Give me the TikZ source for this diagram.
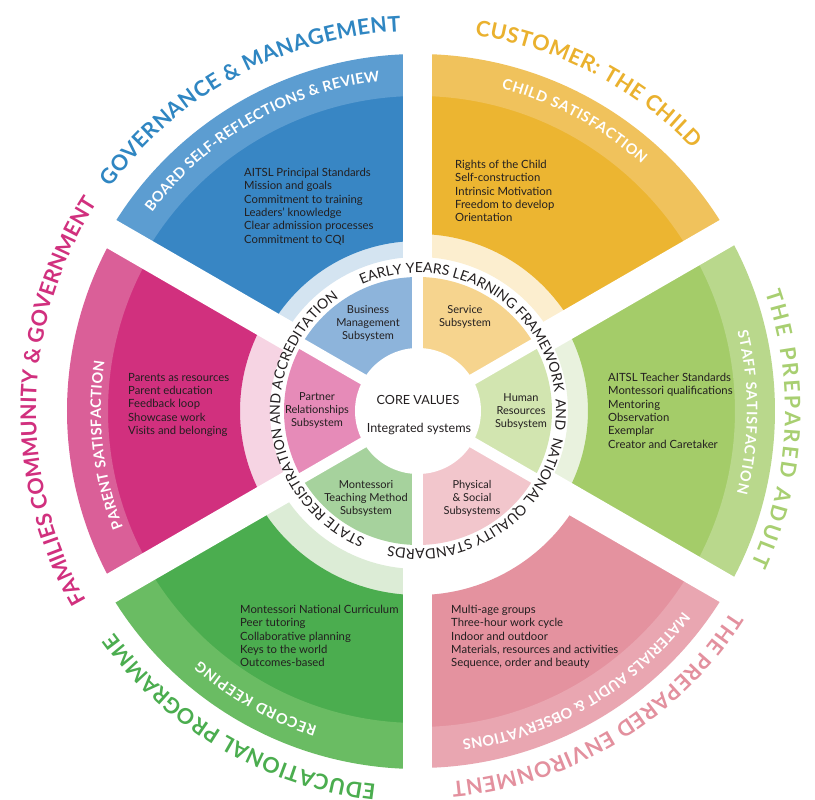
\documentclass[tikz,border=0pt]{standalone}
\usepackage{fontspec}
\setmainfont{Lato}
\usetikzlibrary{decorations.text}
\definecolor{textdark}{HTML}{231F20}
\definecolor{blueM}{HTML}{3886C4}\definecolor{blueB}{HTML}{5C9DD1}\definecolor{blueP}{HTML}{D4E4F1}\definecolor{blueS}{HTML}{8DB4DB}\definecolor{blueT}{HTML}{2F86C2}
\definecolor{yelM}{HTML}{ECB531}\definecolor{yelB}{HTML}{F0C25C}\definecolor{yelP}{HTML}{FCEECF}\definecolor{yelS}{HTML}{F6D48E}\definecolor{yelT}{HTML}{EAB12E}
\definecolor{lgM}{HTML}{A4CC69}\definecolor{lgB}{HTML}{B9D88C}\definecolor{lgP}{HTML}{E9F2DE}\definecolor{lgS}{HTML}{D2E5B0}\definecolor{lgT}{HTML}{A8CF71}
\definecolor{roseM}{HTML}{E4929F}\definecolor{roseB}{HTML}{E9A6B1}\definecolor{roseS}{HTML}{F2C6CC}\definecolor{roseT}{HTML}{E3909E}
\definecolor{grM}{HTML}{4BAD4F}\definecolor{grB}{HTML}{6ABC63}\definecolor{grP}{HTML}{DCECD6}\definecolor{grS}{HTML}{A6D29D}\definecolor{grT}{HTML}{4BAD4F}
\definecolor{magM}{HTML}{D1307E}\definecolor{magB}{HTML}{DA5F98}\definecolor{magP}{HTML}{F6D4E3}\definecolor{magS}{HTML}{E68BB8}\definecolor{magT}{HTML}{D1307E}
\newcommand\annsec[5]{\fill[#1] (#2:#4pt) arc[start angle=#2, end angle=#3, radius=#4pt] -- (#3:#5pt) arc[start angle=#3, end angle=#2, radius=#5pt] -- cycle;}
\newcommand\arctext[6]{\path[decorate, decoration={text along path, text={|#1|#6}, text color=#2, text align=fit to path}] (#3:#5pt) arc[start angle=#3, end angle=#4, radius=#5pt];}
\newcommand\outerfont{\bfseries\fontsize{21.5}{21.5}\selectfont}
\newcommand\bandfont{\bfseries\fontsize{14.5}{14.5}\selectfont}
\newcommand\ringfont{\fontsize{14}{14}\selectfont}
\tikzset{
  body/.style={font=\fontsize{11.3}{13.3}\selectfont, text=textdark, align=left, inner sep=0pt, anchor=north west},
  subsys/.style={font=\fontsize{11}{13}\selectfont, text=textdark, align=center, inner sep=0pt},
  corelabel/.style={font=\fontsize{12.6}{14}\selectfont, text=textdark, inner sep=0pt}
}
\begin{document}
\begin{tikzpicture}[x=1pt,y=1pt]
\useasboundingbox (-418,-389) rectangle (397,411);
\fill[white] (-418,-389) rectangle (397,411);
% outer segments
\annsec{blueP}{90}{150}{154}{171}
\annsec{blueM}{90}{150}{170}{316}
\annsec{blueB}{90}{150}{315}{357}
\annsec{yelP}{30}{90}{154}{178}
\annsec{yelM}{30}{90}{177}{316}
\annsec{yelB}{30}{90}{315}{357}
\annsec{lgP}{-30}{30}{150}{171}
\annsec{lgM}{-30}{30}{170}{318}
\annsec{lgB}{-30}{30}{317}{357}
\annsec{roseM}{-90}{-30}{184}{317}
\annsec{roseB}{-90}{-30}{316}{357}
\annsec{grP}{210}{270}{158}{185}
\annsec{grM}{210}{270}{184}{313}
\annsec{grB}{210}{270}{312}{358}
\annsec{magP}{150}{210}{148}{179}
\annsec{magM}{150}{210}{178}{311}
\annsec{magB}{150}{210}{310}{351}
\foreach \a in {30,90,...,330} \draw[white, line width=29pt] (0,0) -- (\a:400pt);
% subsystems
\annsec{blueS}{90}{150}{60}{134}
\annsec{yelS}{30}{90}{60}{134}
\annsec{lgS}{-30}{30}{60}{134}
\annsec{roseS}{-90}{-30}{60}{134}
\annsec{grS}{210}{270}{60}{134}
\annsec{magS}{150}{210}{60}{134}
\foreach \a in {30,90,...,330} \draw[white, line width=11pt] (0,0) -- (\a:140pt);
\fill[white] (0,0) circle[radius=63pt];
% ring texts
\arctext{\ringfont}{textdark}{114}{-101.5}{138}{EARLY YEARS LEARNING FRAMEWORK {\ }AND {\ }NATIONAL QUALITY STANDARDS}
\arctext{\ringfont}{textdark}{247.5}{125}{138}{STATE REGISTRATION AND ACCREDITATION}
% band labels
\arctext{\bandfont}{white}{143.2}{96.6}{332}{BOARD SELF-REFLECTIONS {\&} REVIEW}
\arctext{\bandfont}{white}{75.5}{47.8}{333}{CHILD SATISFACTION}
\arctext{\bandfont}{white}{14}{-14.4}{329}{STAFF SATISFACTION}
\arctext{\bandfont}{white}{-37.1}{-82.3}{332}{MATERIALS AUDIT {\&} OBSERVATIONS}
\arctext{\bandfont}{white}{252.3}{228.9}{331}{RECORD KEEPING}
\arctext{\bandfont}{white}{201.5}{171.1}{317}{PARENT SATISFACTION}
% outer labels
\arctext{\outerfont}{blueT}{144.0}{92.6}{380}{GOVERNANCE {\&} MANAGEMENT}
\arctext{\outerfont}{yelT}{81.4}{43.6}{380}{CUSTOMER: THE CHILD}
\arctext{\outerfont}{lgT}{18.9}{-24.7}{367}{THE PREPARED ADULT}
\arctext{\outerfont}{roseT}{-32.7}{-84.8}{372}{THE PREPARED ENVIRONMENT}
\arctext{\outerfont}{grT}{263.6}{216.2}{376}{EDUCATIONAL PROGRAMME}
\arctext{\outerfont}{magT}{209.8}{147.0}{382}{FAMILIES COMMUNITY {\&} GOVERNMENT}
% body texts
\node[body] (govtext) at (-174,243) {AITSL Principal Standards\\Mission and goals\\Commitment to training\\Leaders’ knowledge\\Clear admission processes\\Commitment to CQI};
\node[body] (childtext) at (37,251) {Rights of the Child\\Self-construction\\Intrinsic Motivation\\Freedom to develop\\Orientation};
\node[body] (adulttext) at (190,38) {AITSL Teacher Standards\\Montessori qualifications\\Mentoring\\Observation\\Exemplar\\Creator and Caretaker};
\node[body] (familytext) at (-290,38) {Parents as resources\\Parent education\\Feedback loop\\Showcase work\\Visits and belonging};
\node[body] (edutext) at (-178,-194) {Montessori National Curriculum\\Peer tutoring\\Collaborative planning\\Keys to the world\\Outcomes-based};
\node[body] (envtext) at (33,-194) {Multi-age groups\\Three-hour work cycle\\Indoor and outdoor\\Materials, resources and activities\\Sequence, order and beauty};
% subsystem labels
\node[subsys] (bms) at (-50,88) {Business\\Management\\Subsystem};
\node[subsys] (svc) at (47,94.5) {Service\\Subsystem};
\node[subsys] (prs) at (-101,0) {Partner\\Relationships\\Subsystem};
\node[subsys] (hrs) at (103,-1) {Human\\Resources\\Subsystem};
\node[subsys] (mtm) at (-52,-87) {Montessori\\Teaching Method\\Subsystem};
\node[subsys] (pss) at (54,-87) {Physical\\\& Social\\Subsystems};
\node[corelabel] (core) at (0,11) {CORE VALUES};
\node[corelabel] (integ) at (1,-18) {Integrated systems};
\end{tikzpicture}
\end{document}
